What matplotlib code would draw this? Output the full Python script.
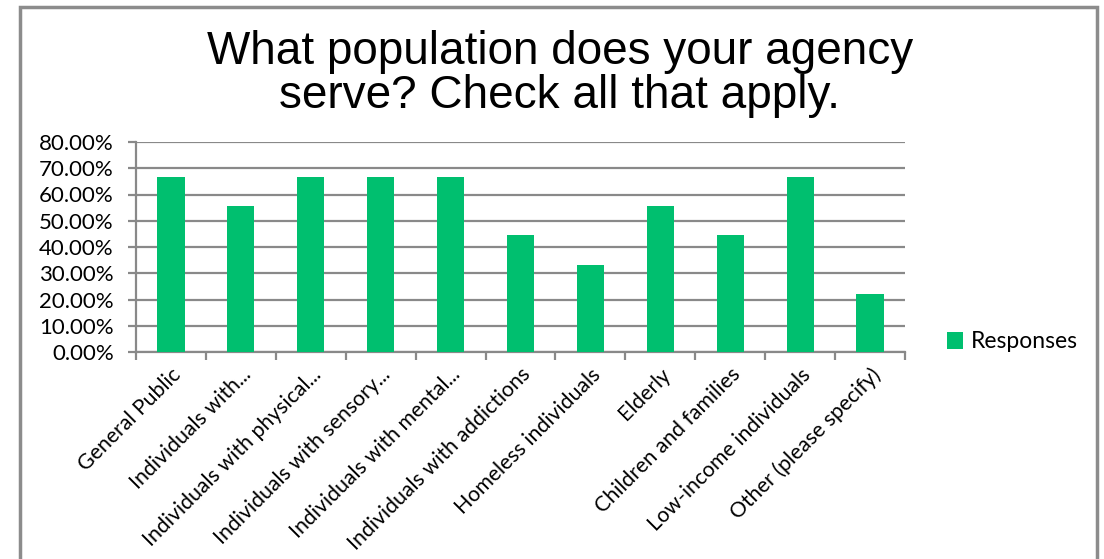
import matplotlib
matplotlib.use("Agg")
import matplotlib.pyplot as plt
from matplotlib.patches import Rectangle
from matplotlib.ticker import FuncFormatter, MultipleLocator
import numpy as np

categories = [
    "General Public",
    "Individuals with...",
    "Individuals with physical...",
    "Individuals with sensory...",
    "Individuals with mental...",
    "Individuals with addictions",
    "Homeless individuals",
    "Elderly",
    "Children and families",
    "Low-income individuals",
    "Other (please specify)",
]
responses = [66.67, 55.56, 66.67, 66.67, 66.67, 44.44, 33.33, 55.56, 44.44, 66.67, 22.22]

BAR = "#00BF6F"
GRID = "#898989"
LABEL_FONT = ["Lato", "DejaVu Sans"]

fig = plt.figure(figsize=(11.04, 5.59), dpi=100)
ax = fig.add_axes([136 / 1104, 1 - 352 / 559, (905 - 136) / 1104, (352 - 142) / 559])

x = np.arange(len(categories))
ax.bar(x, responses, width=0.39, color=BAR, zorder=3, label="Responses")

ax.set_xlim(-0.5, len(categories) - 0.5)
ax.set_ylim(0, 80)
ax.yaxis.set_major_locator(MultipleLocator(10))
ax.yaxis.set_major_formatter(FuncFormatter(lambda v, _: f"{v:.2f}%"))
ax.grid(axis="y", color=GRID, linewidth=1.6, zorder=0)

# category labels sit at the bar centres, tick marks sit on the boundaries
ax.set_xticks(np.arange(-0.5, len(categories), 1.0))
ax.set_xticklabels([])
ax.set_xticks(x, minor=True)
ax.set_xticklabels(categories, minor=True, rotation=45, ha="right",
                   rotation_mode="anchor", fontsize=15.3, family=LABEL_FONT)
ax.tick_params(axis="x", which="minor", length=0, pad=9)
ax.tick_params(axis="x", which="major", length=6, width=1.6, color=GRID, direction="out")
ax.tick_params(axis="y", length=6, width=1.6, color=GRID, direction="out", pad=10)
for t in ax.get_yticklabels():
    t.set_fontfamily(LABEL_FONT)
    t.set_fontsize(16)

for side in ("top", "right"):
    ax.spines[side].set_visible(False)
for side in ("left", "bottom"):
    ax.spines[side].set_color(GRID)
    ax.spines[side].set_linewidth(1.6)

fig.text(0.507, 1 - 74 / 559, "What population does your agency\nserve? Check all that apply.",
         ha="center", va="center", fontsize=33, family="Liberation Sans",
         linespacing=1.0)

leg = fig.legend(handles=ax.patches[:1], labels=["Responses"], loc="center left",
                 bbox_to_anchor=(926 / 1104, 1 - 342 / 559), frameon=False,
                 handlelength=0.7, handleheight=0.7, handletextpad=0.35,
                 prop={"family": LABEL_FONT, "size": 16.5})

# outer chart border, open at the bottom like the cropped screenshot
fig.patches.append(Rectangle((20 / 1104, -0.05), (1097 - 20) / 1104, 1.05 - 7 / 559,
                             transform=fig.transFigure, fill=False,
                             edgecolor="#8c8c8c", linewidth=2.5))

fig.savefig("out.png", dpi=100)
